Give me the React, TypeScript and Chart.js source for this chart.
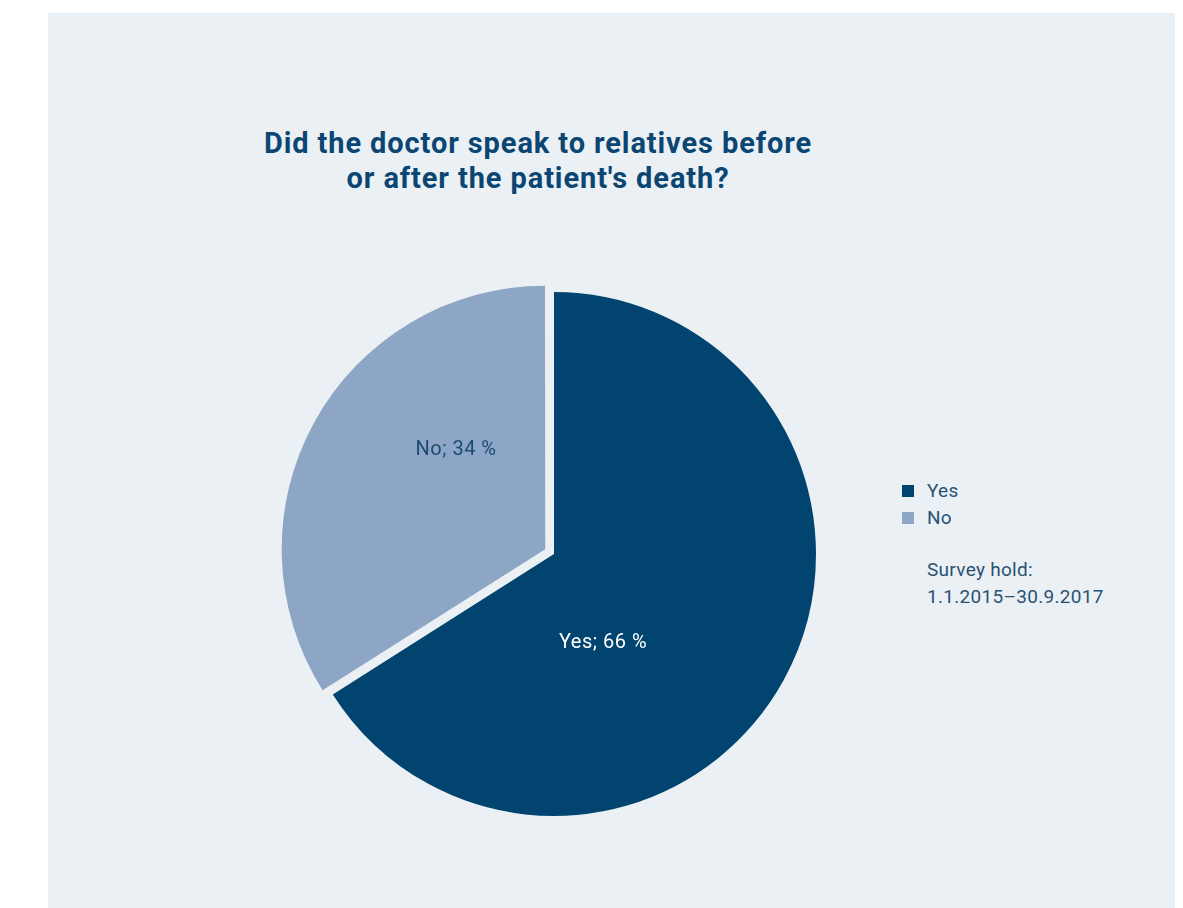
import React, { useEffect, useRef } from "react";
import { Chart, registerables } from "chart.js";

Chart.register(...registerables);

const categories = ["Yes", "No"];
const values = [66, 34];
const colors = ["#00446F", "#8EA6C5"];
const labelColors = ["#FFFFFF", "#1D4B74"];
const titleLines = ["Did the doctor speak to relatives before", "or after the patient's death?"];
const noteLines = ["Survey hold:", "1.1.2015\u201330.9.2017"];

// label anchor relative to pie centre, in fractions of the outer radius
const labelAnchors = [
  [0.187, 0.34],
  [-0.374, -0.397],
];

const BODY_FONT = "Roboto, 'Noto Sans', sans-serif";
const TITLE_FONT = "Roboto, 'Noto Sans', sans-serif";

const labelPlugin = {
  id: "sliceLabels",
  afterDatasetsDraw(chart: any) {
    const ctx = chart.ctx;
    const meta = chart.getDatasetMeta(0);
    ctx.save();
    ctx.font = "20px " + BODY_FONT;
    try {
      (ctx as any).letterSpacing = "0.5px";
    } catch (e) {}
    ctx.textAlign = "center";
    ctx.textBaseline = "middle";
    meta.data.forEach((arc: any, i: number) => {
      const r = arc.outerRadius;
      const [fx, fy] = labelAnchors[i];
      ctx.fillStyle = labelColors[i];
      ctx.fillText(
        categories[i] + "; " + values[i] + " %",
        arc.x + fx * r,
        arc.y + fy * r
      );
    });
    ctx.restore();
  },
};

export default function App() {
  const ref = useRef<HTMLCanvasElement | null>(null);
  useEffect(() => {
    if (!ref.current) return;
    const chart = new Chart(ref.current, {
      type: "pie",
      data: {
        labels: categories,
        datasets: [
          {
            data: values,
            backgroundColor: colors,
            borderWidth: 0,
            offset: [0, 40],
          },
        ],
      },
      options: {
        animation: false,
        responsive: false,
        events: [],
        layout: { padding: 0 },
        plugins: {
          legend: { display: false },
          tooltip: { enabled: false },
          title: { display: false },
        },
      },
      plugins: [labelPlugin],
    });
    return () => chart.destroy();
  }, []);

  const textColor = "#2A5275";
  return (
    <div
      style={{
        position: "absolute",
        left: 48,
        top: 13,
        width: 1127,
        height: 895,
        background: "#EAF0F3",
        overflow: "hidden",
      }}
    >
      <div
        style={{
          position: "absolute",
          left: 538 - 400 - 48,
          top: 125.5 - 13,
          width: 800,
          textAlign: "center",
          fontFamily: TITLE_FONT,
          fontWeight: 700,
          fontSize: 29,
          letterSpacing: "0.9px",
          lineHeight: "35px",
          color: "#0B4673",
          whiteSpace: "nowrap",
        }}
      >
        {titleLines.map((t, i) => (
          <div key={i}>{t}</div>
        ))}
      </div>
      <canvas
        ref={ref}
        width={564}
        height={564}
        style={{ position: "absolute", left: 272 - 48, top: 272 - 13, width: 564, height: 564 }}
      />
      <div
        style={{
          position: "absolute",
          left: 902 - 48,
          top: 477 - 13,
          fontFamily: BODY_FONT,
          fontSize: 19,
          letterSpacing: "0.3px",
          lineHeight: "27px",
          color: textColor,
        }}
      >
        {categories.map((c, i) => (
          <div key={c} style={{ position: "relative", height: 26.5, whiteSpace: "nowrap" }}>
            <span
              style={{
                position: "absolute",
                left: 0,
                top: 8,
                width: 12,
                height: 12,
                background: colors[i],
              }}
            />
            <span style={{ position: "absolute", left: 25, top: 0 }}>{c}</span>
          </div>
        ))}
        <div style={{ marginTop: 26, marginLeft: 25, whiteSpace: "nowrap" }}>
          {noteLines.map((t, i) => (
            <div key={i}>{t}</div>
          ))}
        </div>
      </div>
    </div>
  );
}
